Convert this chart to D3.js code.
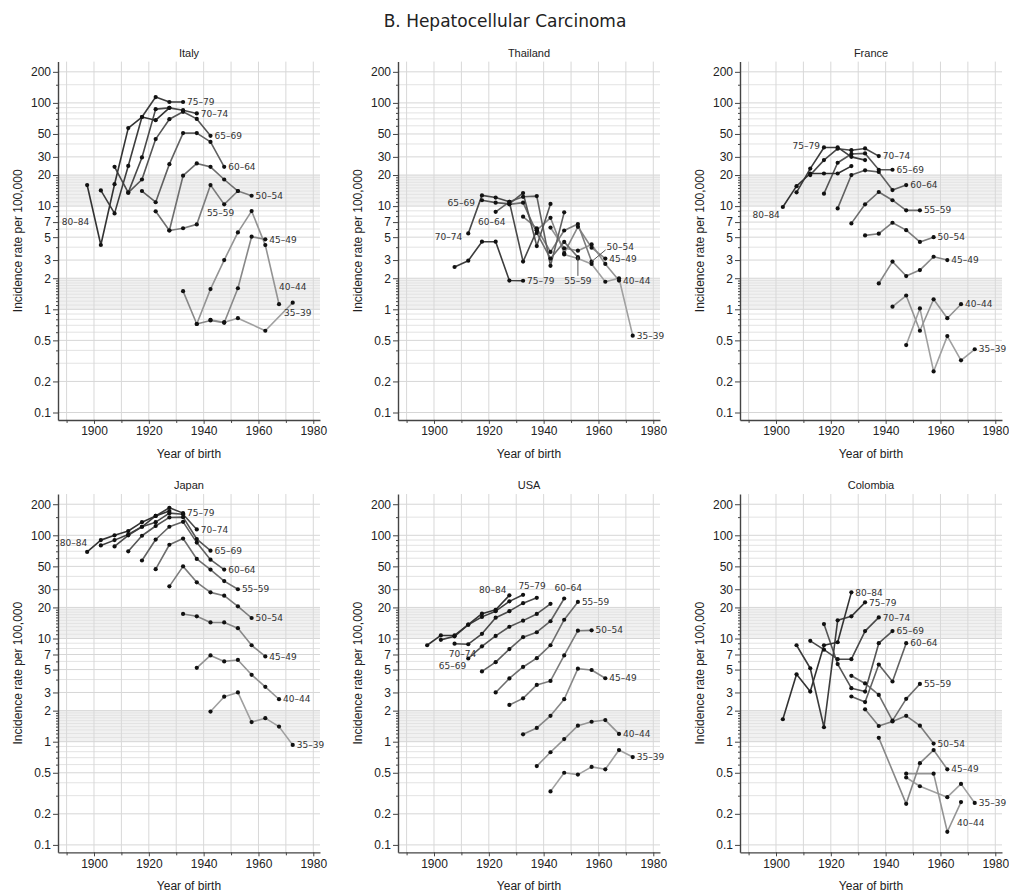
<!DOCTYPE html>
<html><head><meta charset="utf-8">
<script src="https://cdn.jsdelivr.net/npm/d3@7"></script>
<style>
body{margin:0;background:#fff;}
svg{display:block;}
</style></head>
<body>
<svg id="chart" width="1009" height="895"></svg>
<script>
// ---------- data ----------
const ageGroups = ["35–39","40–44","45–49","50–54","55–59","60–64","65–69","70–74","75–79","80–84"];
const ageMid = [37.5,42.5,47.5,52.5,57.5,62.5,67.5,72.5,77.5,82.5];
const periods7 = [1980,1985,1990,1995,2000,2005,2010];
const periods6 = [1985,1990,1995,2000,2005,2010];

// rates per 100,000, one row per age group (35-39 ... 80-84), one value per period
const italyRates = [
  [0.79,0.75,0.82,null,0.62,null,1.16],
  [0.72,1.57,3.0,5.56,8.95,4.19,1.12],
  [1.5,0.72,0.78,0.74,1.6,5.05,4.76],
  [5.8,6.1,6.65,16,10.4,14.0,12.6],
  [8.9,5.8,19.7,25.9,24,18.1,14.0],
  [14.0,10.9,25.5,51,51,41.9,24],
  [13.5,18.1,44.6,69.5,82,70,48],
  [24.0,13.5,29.6,87,89.5,85,79],
  [14.2,8.5,24.5,73,114,102,102],
  [16.0,4.2,16.3,57,73,68,89.5]
];
const thailandRates = [
  [3.4,3.1,2.75,1.85,2.0,0.555],
  [6.2,3.9,3.7,4.25,2.75,1.9],
  [5.85,7.7,3.5,6.3,3.95,3.1],
  [7.9,6.1,3.6,5.8,6.7,2.9],
  [10.4,10.8,5.5,3.1,4.5,3.2],
  [8.8,11.0,12.3,12.5,2.64,8.7],
  [11.4,10.8,10.5,13.4,4.1,10.5],
  [5.43,12.7,12.1,11.0,2.9,5.8],
  [2.57,2.96,4.52,4.52,1.9,1.89],
  []
];
const franceRates = [
  [0.45,1.02,0.25,0.55,0.32,0.41],
  [1.06,1.36,0.62,1.25,0.82,1.12],
  [1.78,2.9,2.1,2.4,3.23,3.0],
  [5.2,5.4,6.9,5.85,4.5,5.0],
  [6.8,10.4,13.7,11.4,9.1,9.1],
  [9.5,20,22.2,21.4,14.3,16],
  [13.2,26.3,32,32.4,22.5,22.5],
  [20.0,27.9,36,34.8,36.2,30.5],
  [13.6,23.1,37,37,30,27.9],
  [9.8,15.6,20.7,20.7,20.7,24.4]
];
const japanRates = [
  [1.96,2.73,3.0,1.55,1.69,1.40,0.93],
  [5.2,6.85,6.0,6.2,4.45,3.4,2.58],
  [17.3,16.4,14.3,14.3,12.6,8.6,6.7],
  [32,50,35,28,26,20.5,15.8],
  [47,81,93,59,46.5,36,30],
  [57,91,121,135,85,58,46.5],
  [70,99,123,149,150,92,71],
  [78,100,121,134,164,160,114],
  [79.8,89.8,102,121,154,185,164],
  [69,89.8,100,110,134,154,172]
];
const usaRates = [
  [0.33,0.50,0.48,0.57,0.54,0.83,0.71],
  [0.58,0.79,1.06,1.43,1.56,1.62,1.19],
  [1.18,1.36,1.78,2.58,5.1,4.95,4.12],
  [2.27,2.63,3.55,3.88,6.85,11.9,12],
  [3.0,4.1,5.3,6.45,8.6,15.2,22.6],
  [4.8,5.9,7.9,10.3,11.5,14.7,24.4],
  [6.4,8.4,10.6,13,14.9,17.3,21.7],
  [8.9,8.8,11.1,15.9,18.4,22,24.8],
  [9.7,10.5,13.6,16.2,18.4,22.9,26.5],
  [8.6,10.7,10.7,13.6,17.4,19.0,26.2]
];
const colombiaRates = [
  [0.45,0.37,null,0.29,0.39,0.255],
  [null,0.49,null,0.49,0.134,0.26],
  [1.09,null,0.25,0.62,0.83,0.54],
  [2.06,1.42,1.57,1.78,1.43,0.96],
  [4.35,3.67,2.84,1.6,2.6,3.63],
  [null,2.74,2.42,5.6,3.83,9.0],
  [13.8,5.65,3.3,3.06,9.0,11.8],
  [9.5,7.8,6.3,6.3,11.8,16],
  [8.6,5.15,1.38,15,16.4,22.4],
  [1.65,4.5,3.06,8.6,9.2,28]
];

const yTickValues = [0.1,0.2,0.5,1,2,3,5,7,10,20,30,50,100,200];
const yGridValues = [0.1,0.2,0.3,0.4,0.5,0.6,0.7,0.8,0.9,1,1.1,1.2,1.3,1.4,1.5,1.6,1.7,1.8,1.9,2,3,4,5,6,7,8,9,
                     10,11,12,13,14,15,16,17,18,19,20,30,40,50,60,70,80,90,100,150,200];
const xTickValues = [1900,1920,1940,1960,1980];
const xMinorValues = [1890,1910,1930,1950,1970];
const xGridValues = [1890,1900,1910,1920,1930,1940,1950,1960,1970,1980];

// ---------- layout / label placement (not data) ----------
// [ageIndex, pointIndex(-1 = last), dx, dy, anchor, leader]
const italyLabels = [[9,0,2,37,"end",false],[4,-1,-31,22,"start",false],[1,-1,0,-17,"start",false],[0,4,5,10,"middle",false]];
const thailandLabels = [[7,0,-6,3,"end",false],[6,0,-7,3,"end",false],[5,0,-4,10,"middle",false],[4,-1,0,24,"middle",true],[3,-1,15,-15,"start",true]];
const franceLabels = [[9,0,-3,8,"end",false],[8,2,-4,-2,"end",false]];
const japanLabels = [[9,0,0,-9,"end",false]];
const usaLabels = [[9,-1,-3,-5,"end",false],[8,-1,9,-9,"middle",false],[5,-1,4,-11,"middle",false],[7,0,8,10,"middle",false],[6,0,-2,7,"end",false]];
const colombiaLabels = [[1,-1,-4,21,"start",false]];

const panels = [
  {name:"Italy",col:0,row:0,periods:periods7,rates:italyRates,labels:italyLabels},
  {name:"Thailand",col:1,row:0,periods:periods6,rates:thailandRates,labels:thailandLabels},
  {name:"France",col:2,row:0,periods:periods6,rates:franceRates,labels:franceLabels},
  {name:"Japan",col:0,row:1,periods:periods7,rates:japanRates,labels:japanLabels},
  {name:"USA",col:1,row:1,periods:periods7,rates:usaRates,labels:usaLabels},
  {name:"Colombia",col:2,row:1,periods:periods6,rates:colombiaRates,labels:colombiaLabels}
];

const lineColors = ["#a0a0a0","#949494","#888888","#7c7c7c","#6e6e6e","#616161","#555555","#494949","#3d3d3d","#333333"];
const colLeft = [58,398,740], plotW = 262, xDomain = [1886.87,1982.45];
const rowOne = [309.3,741.7], decade = 103.2, logTop = 2.4, logBot = 1.072;

const svg = d3.select("#chart");
const tickFont = "Liberation Sans, Arial, sans-serif";

svg.append("text").attr("x",505).attr("y",27).attr("text-anchor","middle")
  .attr("font-family","DejaVu Sans, Verdana, sans-serif").attr("font-size",17).attr("fill","#222")
  .text("B. Hepatocellular Carcinoma");

panels.forEach(p=>{
  const left = colLeft[p.col];
  const x = d3.scaleLinear().domain(xDomain).range([left,left+plotW]);
  const y = d3.scaleLog().domain([Math.pow(10,-logBot),Math.pow(10,logTop)])
    .range([rowOne[p.row]+logBot*decade, rowOne[p.row]-logTop*decade]);
  const top = y.range()[1], bot = y.range()[0];
  const g = svg.append("g");

  // bands
  [[1,2],[10,20]].forEach(([a,b])=>{
    g.append("rect").attr("x",left).attr("width",plotW).attr("y",y(b)).attr("height",y(a)-y(b)).attr("fill","#f1f1f1");
  });
  // horizontal grid
  g.selectAll(null).data(yGridValues).join("line")
    .attr("x1",left).attr("x2",left+plotW).attr("y1",d=>y(d)).attr("y2",d=>y(d))
    .attr("stroke",d=>yTickValues.includes(d)?"#d6d6d6":"#e3e3e3").attr("stroke-width",1);
  // vertical grid
  g.selectAll(null).data(xGridValues).join("line")
    .attr("x1",d=>x(d)).attr("x2",d=>x(d)).attr("y1",top).attr("y2",bot)
    .attr("stroke","#d8d8d8").attr("stroke-width",1);

  // series
  const seriesPts = p.rates.map((vals,i)=>vals.map((v,j)=>({c:p.periods[j]-ageMid[i],v})).filter(d=>d.v!=null));
  const line = d3.line().x(d=>x(d.c)).y(d=>y(d.v));
  seriesPts.forEach((pts,i)=>{
    if(!pts.length) return;
    g.append("path").datum(pts).attr("d",line).attr("fill","none")
      .attr("stroke",lineColors[i]).attr("stroke-width",1.6).attr("stroke-linejoin","round");
  });
  seriesPts.forEach((pts,i)=>{
    g.selectAll(null).data(pts).join("circle")
      .attr("cx",d=>x(d.c)).attr("cy",d=>y(d.v)).attr("r",2.1).attr("fill","#111");
  });

  // labels
  seriesPts.forEach((pts,i)=>{
    if(!pts.length) return;
    const ov = p.labels.find(l=>l[0]===i);
    let idx = pts.length-1, dx=4, dy=0, anchor="start", leader=false;
    if(ov){ idx = ov[1]<0?pts.length-1:ov[1]; dx=ov[2]; dy=ov[3]; anchor=ov[4]; leader=ov[5]; }
    const pt = pts[idx];
    const px = x(pt.c), py = y(pt.v);
    if(leader){
      g.append("line").attr("x1",px).attr("y1",py)
        .attr("x2",px+dx-Math.sign(dx)*1).attr("y2",py+dy*0.78)
        .attr("stroke","#555").attr("stroke-width",1);
    }
    g.append("text").attr("x",px+dx).attr("y",py+dy).attr("dy","0.35em")
      .attr("text-anchor",anchor).attr("font-family","DejaVu Sans, Verdana, sans-serif")
      .attr("font-size",9).attr("fill","#333").text(ageGroups[i]);
  });

  // axes
  const yAxis = g.append("g").attr("transform",`translate(${left},0)`)
    .call(d3.axisLeft(y).tickValues(yTickValues).tickFormat(d3.format("~g")).tickSize(5).tickSizeOuter(0));
  g.append("g").attr("transform",`translate(${left},0)`)
    .call(d3.axisLeft(y).tickValues(yGridValues.filter(v=>!yTickValues.includes(v))).tickFormat("").tickSize(2).tickSizeOuter(0))
    .call(s=>s.select(".domain").remove());
  const xAxis = g.append("g").attr("transform",`translate(0,${bot})`)
    .call(d3.axisBottom(x).tickValues(xTickValues).tickFormat(d3.format("d")).tickSize(4).tickSizeOuter(0));
  g.append("g").attr("transform",`translate(0,${bot})`)
    .call(d3.axisBottom(x).tickValues(xMinorValues).tickFormat("").tickSize(3).tickSizeOuter(0))
    .call(s=>s.select(".domain").remove());
  g.selectAll(".domain").attr("stroke","#444").attr("stroke-width",1.4);
  g.selectAll(".tick line").attr("stroke","#444");
  g.selectAll(".tick text").attr("font-family",tickFont).attr("font-size",12).attr("fill","#222");
  yAxis.selectAll(".tick text").attr("x",-7);
  xAxis.selectAll(".tick text").attr("y",7);

  // titles
  const cx = left+plotW/2;
  g.append("text").attr("x",cx).attr("y",top-5).attr("text-anchor","middle")
    .attr("font-family",tickFont).attr("font-size",11).attr("fill","#222").text(p.name);
  g.append("text").attr("x",cx).attr("y",bot+38).attr("text-anchor","middle")
    .attr("font-family",tickFont).attr("font-size",12).attr("fill","#222").text("Year of birth");
  g.append("text").attr("transform",`translate(${left-36},${(top+bot)/2}) rotate(-90)`)
    .attr("text-anchor","middle").attr("font-family",tickFont).attr("font-size",12).attr("fill","#222")
    .text("Incidence rate per 100,000");
});
</script>
</body></html>
